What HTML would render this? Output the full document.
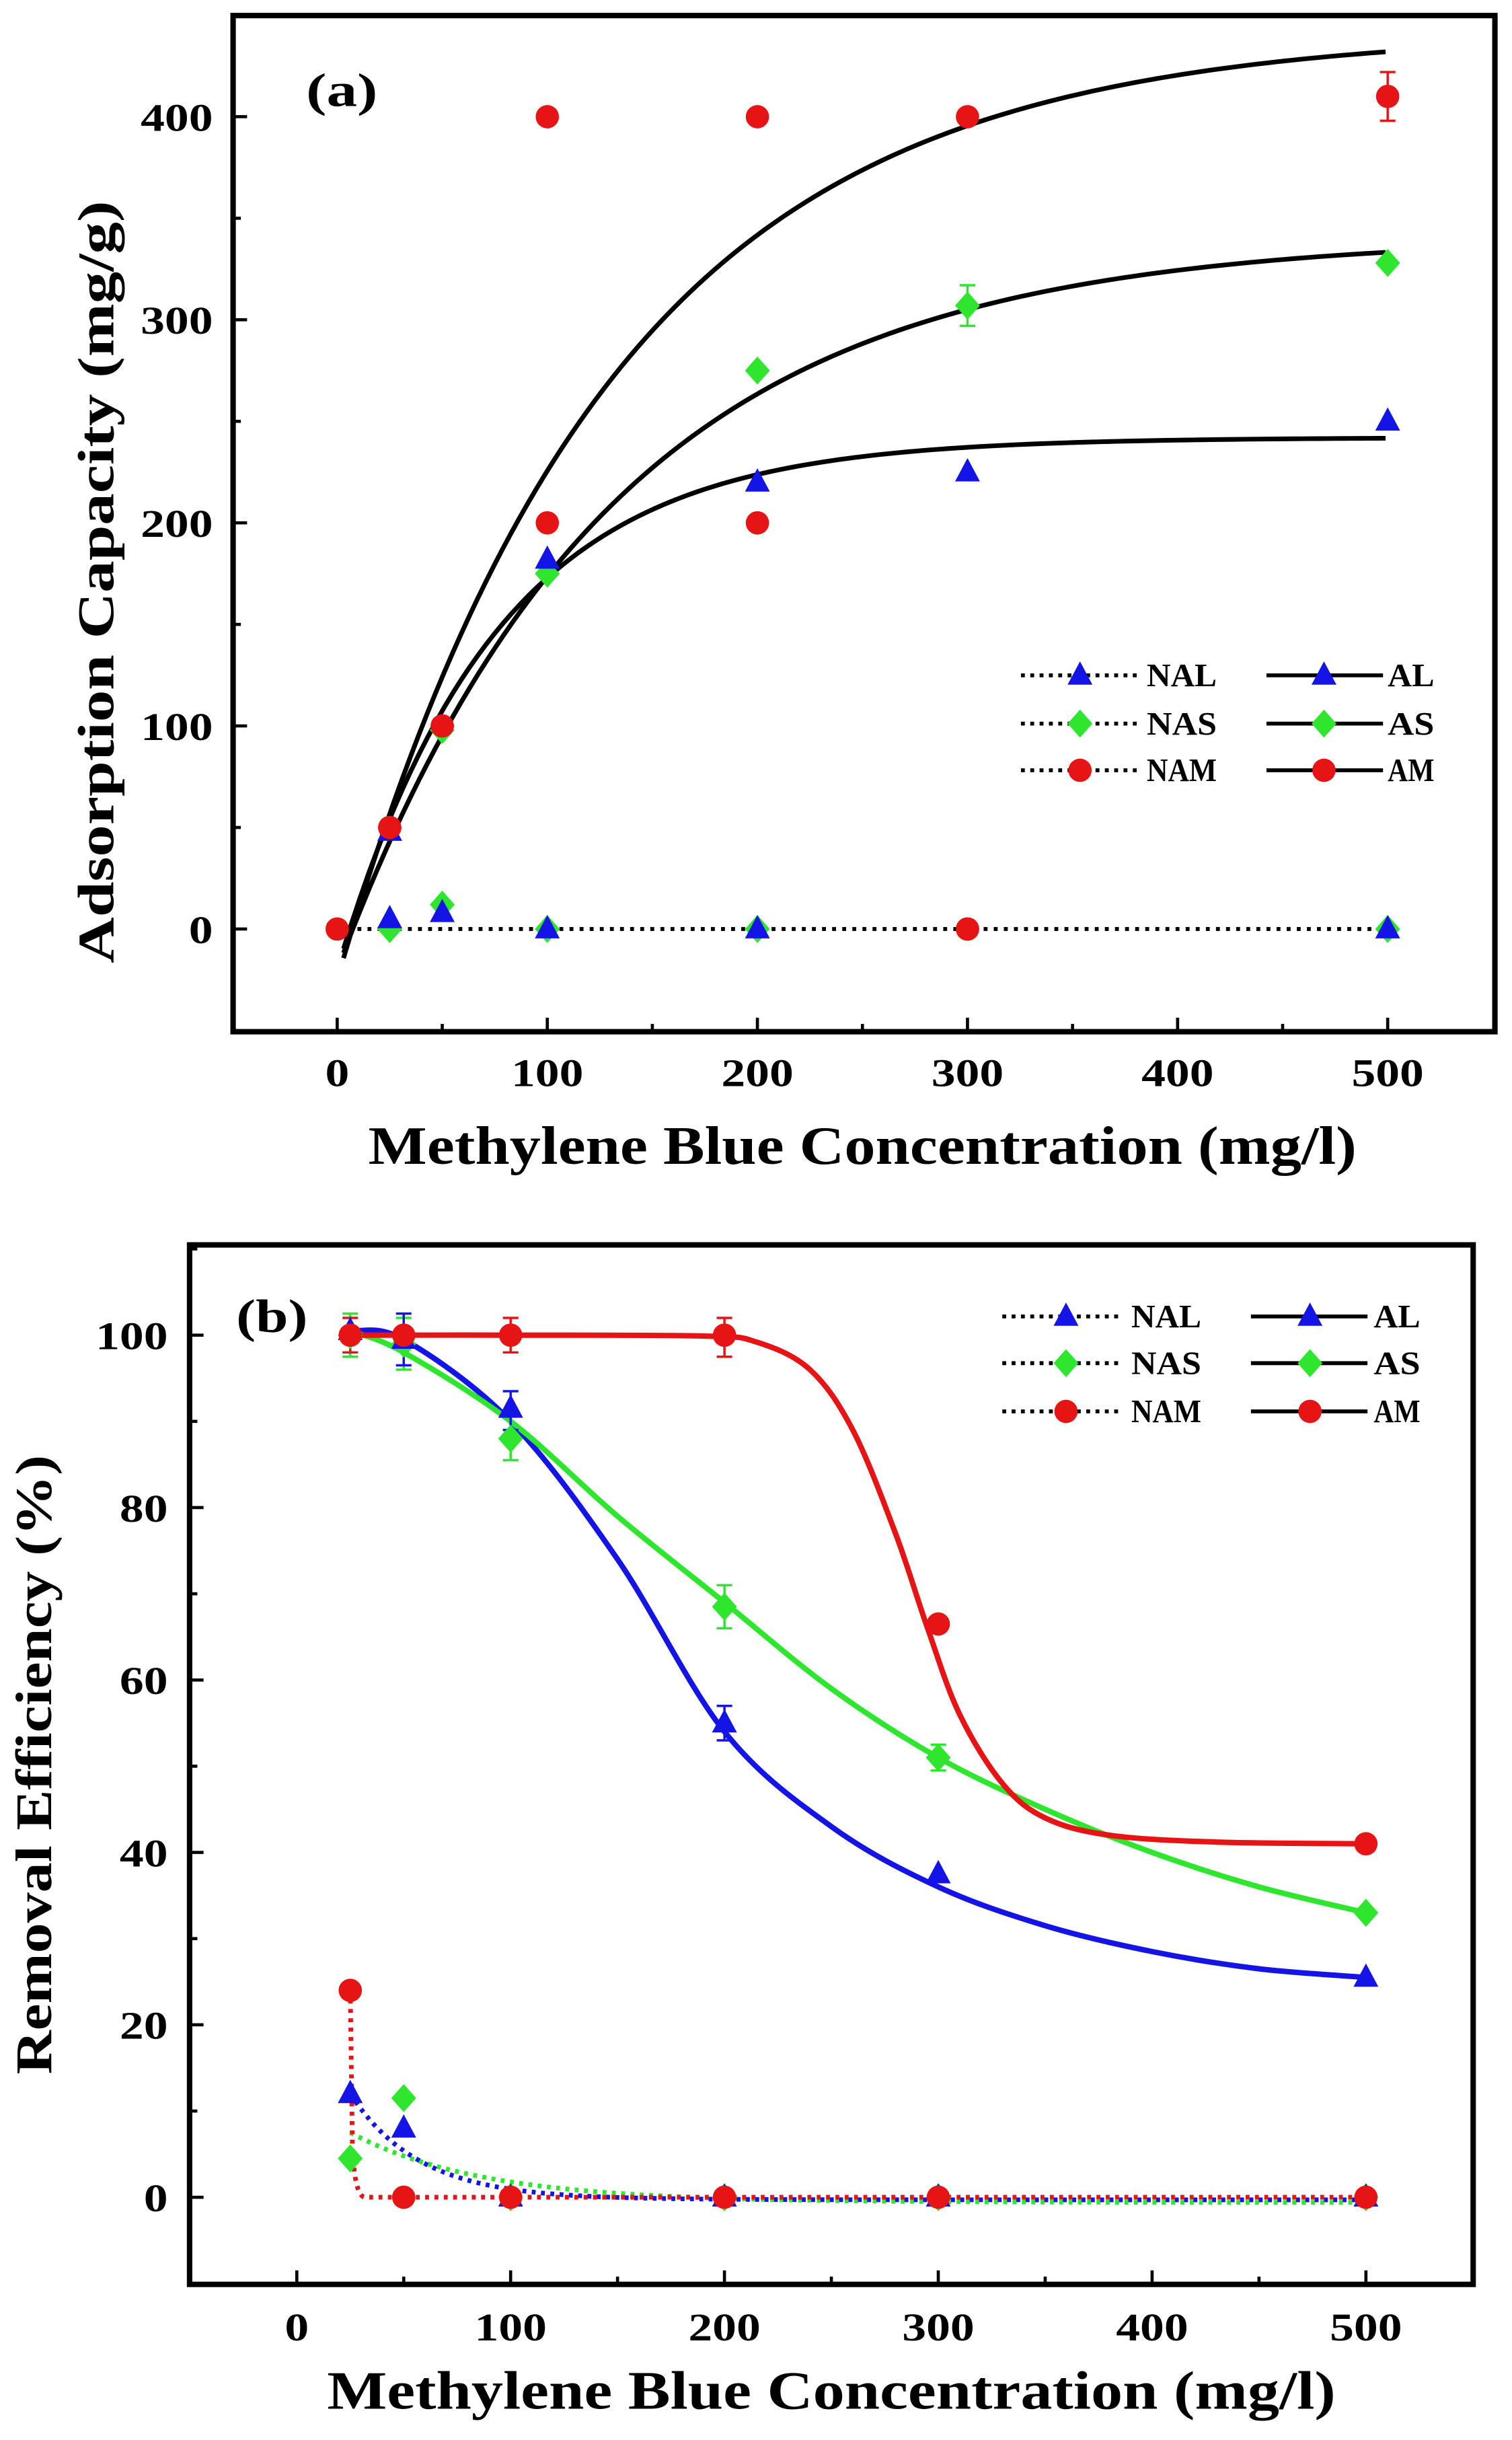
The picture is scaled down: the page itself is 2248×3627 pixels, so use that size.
<!DOCTYPE html>
<html><head><meta charset="utf-8">
<style>html,body{margin:0;padding:0;background:#fff}svg{display:block}</style>
</head><body>
<svg id="s" xmlns="http://www.w3.org/2000/svg" width="2248" height="3627" viewBox="0 0 973 1568" preserveAspectRatio="none" font-family="'Liberation Serif', serif" font-weight="bold">
<rect width="973" height="1568" fill="#fff"/>
<g id="g"></g>
</svg>
<script>
const NS="http://www.w3.org/2000/svg";
const G=document.getElementById('g');
function el(t,a,txt){const e=document.createElementNS(NS,t);for(const k in a)e.setAttribute(k,a[k]);if(txt!==undefined)e.textContent=txt;G.appendChild(e);return e;}
function tx(x,y,s,anchor,str,len,extra){const a={x:x,y:y,'font-size':s,'text-anchor':anchor};if(len){a.textLength=len;a.lengthAdjust='spacingAndGlyphs';}if(extra)Object.assign(a,extra);return el('text',a,str);}
const BLUE="#1414e6",GREEN="#2ee62e",RED="#e61414";
function tri(x,y,c){el('polygon',{points:`${x},${y-9} ${x-8},${y+6} ${x+8},${y+6}`,fill:c});}
function dia(x,y,c){el('polygon',{points:`${x},${y-9} ${x+8},${y} ${x},${y+9} ${x-8},${y}`,fill:c});}
function cir(x,y,c){el('circle',{cx:x,cy:y,r:7.5,fill:c});}
function err(x,y1,y2,c){el('path',{d:`M${x},${y1}V${y2}M${x-5},${y1}H${x+5}M${x-5},${y2}H${x+5}`,stroke:c,'stroke-width':1.5,fill:'none'});}
function cr(pts){let d=`M${pts[0][0]},${pts[0][1]}`;for(let i=0;i<pts.length-1;i++){const p0=pts[Math.max(0,i-1)],p1=pts[i],p2=pts[i+1],p3=pts[Math.min(pts.length-1,i+2)];d+=` C${p1[0]+(p2[0]-p0[0])/6},${p1[1]+(p2[1]-p0[1])/6} ${p2[0]-(p3[0]-p1[0])/6},${p2[1]-(p3[1]-p1[1])/6} ${p2[0]},${p2[1]}`;}return d;}
const tlen=s=>s.length*15.5;

// ===== Panel A =====
const ax=v=>217+v*1.352, ay=v=>597-v*1.305;
for(let v=0;v<=500;v+=50){const x=ax(v);el('line',{x1:x,y1:663,x2:x,y2:v%100?658:654,stroke:'#000','stroke-width':2});}
for(let v=-50;v<=450;v+=50){const y=ay(v);if(y<12||y>661)continue;el('line',{x1:150,y1:y,x2:v%100?155:159,y2:y,stroke:'#000','stroke-width':2});}
for(let v=0;v<=500;v+=100)tx(ax(v),698,25,'middle',String(v),tlen(String(v)));
for(let v=0;v<=400;v+=100)tx(137,ay(v)+9,25,'end',String(v),tlen(String(v)));
tx(555,748,35,'middle','Methylene Blue Concentration (mg/l)',636);
tx(0,0,33,'middle','Adsorption Capacity (mg/g)',490,{transform:'translate(73,374) rotate(-90)'});
tx(197,68,30,'start','(a)',46);
el('line',{x1:ax(0),y1:ay(0),x2:ax(500),y2:ay(0),stroke:'#000','stroke-width':2.5,'stroke-dasharray':'2.5,4'});
function fit(a,b,c,x0){let p=[];for(let v=x0;v<=500;v+=4)p.push([ax(v),ay(a-b*Math.exp(-v/c))]);return 'M'+p.map(q=>q.join(',')).join(' L');}
el('path',{d:fit(442,467,130,3),stroke:'#000','stroke-width':3,fill:'none'});
el('path',{d:fit(341,361,130,3),stroke:'#000','stroke-width':3,fill:'none'});
el('path',{d:fit(242,262,75,3),stroke:'#000','stroke-width':3,fill:'none'});
err(ax(500),ay(422),ay(398),RED);err(ax(300),ay(317),ay(297),GREEN);
[[0,0],[25,50],[50,100],[100,200],[100,400],[200,400],[200,200],[300,400],[300,0],[500,410]].forEach(p=>cir(ax(p[0]),ay(p[1]),RED));
[[25,0],[50,12],[100,175],[200,275],[300,307],[500,328],[50,98],[100,0],[200,0],[500,0]].forEach(p=>dia(ax(p[0]),ay(p[1]),GREEN));
[[25,5],[50,8],[100,182],[200,220],[300,225],[500,250],[100,0],[200,0],[500,0],[25,48]].forEach(p=>tri(ax(p[0]),ay(p[1]),BLUE));
cir(ax(25),ay(50),RED);cir(ax(50),ay(100),RED);cir(ax(300),ay(0),RED);
function legend(rows,x1,x2,m1,l1,s1,s2,m2,l2){
 const mk=[tri,dia,cir],cols=[BLUE,GREEN,RED],nm=[['NAL','AL'],['NAS','AS'],['NAM','AM']];
 rows.forEach((y,i)=>{
  el('line',{x1:x1,y1:y,x2:x2,y2:y,stroke:'#000','stroke-width':2.5,'stroke-dasharray':'2.5,3.5'});
  mk[i](m1,y,cols[i]);tx(l1,y+7,21,'start',nm[i][0],nm[i][0].length*15);
  el('line',{x1:s1,y1:y,x2:s2,y2:y,stroke:'#000','stroke-width':2.5});
  mk[i](m2,y,cols[i]);tx(l2,y+7,21,'start',nm[i][1],nm[i][1].length*15);
 });}
legend([434,465,495],657,732,695,738,815,890,852,893);
el('rect',{x:150,y:10,width:812,height:653,fill:'none',stroke:'#000','stroke-width':3.5});

// ===== Panel B =====
const bx=v=>191+v*1.376, by=v=>1412-v*5.54;
for(let v=0;v<=500;v+=50){const x=bx(v);el('line',{x1:x,y1:1468,x2:x,y2:v%100?1463:1459,stroke:'#000','stroke-width':2});}
for(let v=-10;v<=110;v+=10){const y=by(v);if(y<802||y>1466)continue;el('line',{x1:122,y1:y,x2:v%20?127:131,y2:y,stroke:'#000','stroke-width':2});}
for(let v=0;v<=500;v+=100)tx(bx(v),1504,25,'middle',String(v),tlen(String(v)));
for(let v=0;v<=100;v+=20)tx(108,by(v)+9,25,'end',String(v),tlen(String(v)));
tx(535,1548,35,'middle','Methylene Blue Concentration (mg/l)',649);
tx(0,0,33,'middle','Removal Efficiency (%)',398,{transform:'translate(33,1134) rotate(-90)'});
tx(152,856,30,'start','(b)',46);
const P=a=>a.map(p=>[bx(p[0]),by(p[1])]);
let d1=[],d2=[];for(let v=25;v<=500;v+=3){d1.push([bx(v),by(12*Math.exp(-(v-25)/32)-0.3*(1-Math.exp(-(v-25)/60)))]);d2.push([bx(v),by(7.5*Math.exp(-(v-25)/60)-0.6*(1-Math.exp(-(v-25)/80)))]);}
el('path',{d:'M'+d2.map(q=>q.join(',')).join(' L'),stroke:GREEN,'stroke-width':3,fill:'none','stroke-dasharray':'2.5,3.5'});
el('path',{d:'M'+d1.map(q=>q.join(',')).join(' L'),stroke:BLUE,'stroke-width':3,fill:'none','stroke-dasharray':'2.5,3.5'});
el('path',{d:`M${bx(25)},${by(24)} L${bx(26)},${by(6)} Q${bx(27)},${by(0)} ${bx(32)},${by(0)} L${bx(500)},${by(0)}`,stroke:RED,'stroke-width':3,fill:'none','stroke-dasharray':'2.5,3.5'});
el('path',{d:cr(P([[25,100.5],[50,99.5],[100,90],[150,74],[200,54],[250,43],[300,36],[350,31.5],[400,28.5],[450,26.5],[500,25.5]])),stroke:BLUE,'stroke-width':3.5,fill:'none'});
el('path',{d:cr(P([[25,100.5],[50,98],[100,90],[150,79],[200,69],[250,59],[300,51],[350,45],[400,40],[450,36],[500,33]])),stroke:GREEN,'stroke-width':3.5,fill:'none'});
el('path',{d:cr(P([[25,100],[100,100],[190,99.9],[215,99.2],[240,96],[260,89],[280,77],[295,66],[310,56],[330,48],[350,44],[380,42],[430,41.2],[500,41]])),stroke:RED,'stroke-width':3.5,fill:'none'});
[[25,102.5,97.5,GREEN],[50,102,96,GREEN],[100,91,85.5,GREEN],[200,71,66,GREEN],[300,52.5,49.5,GREEN],[50,102.5,96.5,BLUE],[100,93.5,89,BLUE],[200,57,53,BLUE],[25,102,98,RED],[100,102,98,RED],[200,102,97.5,RED]].forEach(e=>err(bx(e[0]),by(e[1]),by(e[2]),e[3]));
[[25,100],[50,99],[100,88],[200,68.5],[300,51],[500,33],[25,4.5],[50,11.5],[100,0],[200,0],[300,0],[500,0]].forEach(p=>dia(bx(p[0]),by(p[1]),GREEN));
[[25,100.5],[50,99.5],[100,91.5],[200,55],[300,37.5],[500,25.5],[25,12],[50,8],[100,0],[200,0],[300,0],[500,0]].forEach(p=>tri(bx(p[0]),by(p[1]),BLUE));
[[25,100],[50,100],[100,100],[200,100],[300,66.5],[500,41],[25,24],[50,0],[100,0],[200,0],[300,0],[500,0]].forEach(p=>cir(bx(p[0]),by(p[1]),RED));
legend([846,876,907],645,722,686,728,805,880,843,884);
el('rect',{x:122,y:800,width:826,height:668,fill:'none',stroke:'#000','stroke-width':3.5});
</script>
</body></html>
